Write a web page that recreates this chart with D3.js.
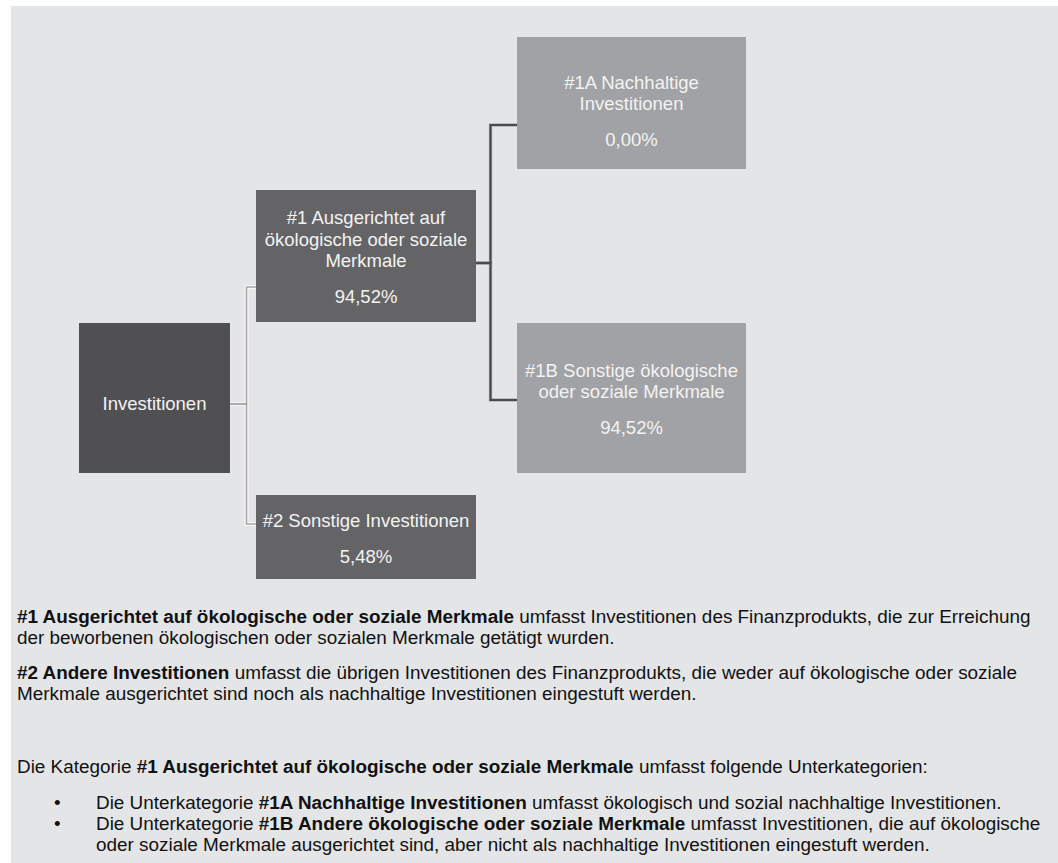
<!DOCTYPE html>
<html><head><meta charset="utf-8">
<script src="https://cdn.jsdelivr.net/npm/d3@7"></script>
<style>
html,body{margin:0;padding:0;background:#fff;}
svg{display:block;font-family:"Liberation Sans",Arial,sans-serif;}
</style></head>
<body>
<svg id="chart" width="1058" height="863"></svg>
<script>
// ---- data ----
const nodeIds = ["inv", "n1", "n2", "n1A", "n1B"];
const nodeLabels = [
  ["Investitionen"],
  ["#1 Ausgerichtet auf", "ökologische oder soziale", "Merkmale"],
  ["#2 Sonstige Investitionen"],
  ["#1A Nachhaltige", "Investitionen"],
  ["#1B Sonstige ökologische", "oder soziale Merkmale"]
];
const nodeValues = [null, "94,52%", "5,48%", "0,00%", "94,52%"];
const nodeLevels = [0, 1, 1, 2, 2];
const linkSources = ["inv", "inv", "n1", "n1"];
const linkTargets = ["n1", "n2", "n1A", "n1B"];

const notes = [
  [[{b:true,t:"#1 Ausgerichtet auf ökologische oder soziale Merkmale"},{t:" umfasst Investitionen des Finanzprodukts, die zur Erreichung"}],
   [{t:"der beworbenen ökologischen oder sozialen Merkmale getätigt wurden."}]],
  [[{b:true,t:"#2 Andere Investitionen"},{t:" umfasst die übrigen Investitionen des Finanzprodukts, die weder auf ökologische oder soziale"}],
   [{t:"Merkmale ausgerichtet sind noch als nachhaltige Investitionen eingestuft werden."}]],
  [[{t:"Die Kategorie "},{b:true,t:"#1 Ausgerichtet auf ökologische oder soziale Merkmale"},{t:" umfasst folgende Unterkategorien:"}]]
];
const bullets = [
  [[{t:"Die Unterkategorie "},{b:true,t:"#1A Nachhaltige Investitionen"},{t:" umfasst ökologisch und sozial nachhaltige Investitionen."}]],
  [[{t:"Die Unterkategorie "},{b:true,t:"#1B Andere ökologische oder soziale Merkmale"},{t:" umfasst Investitionen, die auf ökologische"}],
   [{t:"oder soziale Merkmale ausgerichtet sind, aber nicht als nachhaltige Investitionen eingestuft werden."}]]
];

// ---- layout (positions/styles kept separate from data) ----
const svg = d3.select("#chart");
const W = 1058, H = 863;
svg.append("rect").attr("x", 11).attr("y", 6).attr("width", W - 11).attr("height", H - 6).attr("fill", "#e4e5e7");

const colX = d3.scaleOrdinal().domain([0, 1, 2]).range([79, 256, 517]);
const colW = d3.scaleOrdinal().domain([0, 1, 2]).range([151, 220, 229]);
const boxY = {inv: [323, 473], n1: [190, 322], n2: [495, 579], n1A: [37, 169], n1B: [323, 473]};
const fillOf = {inv: "#505052", n1: "#646466", n2: "#646466", n1A: "#a1a2a5", n1B: "#a1a2a5"};
const lineBase = {inv: [410], n1: [224, 246, 267, 303], n2: [527, 563], n1A: [89, 110, 146], n1B: [377, 398, 434]};

const nodes = nodeIds.map((id, i) => ({
  id, label: nodeLabels[i], value: nodeValues[i], level: nodeLevels[i],
  x: colX(nodeLevels[i]), w: colW(nodeLevels[i]), y0: boxY[id][0], y1: boxY[id][1]
}));
const byId = Object.fromEntries(nodes.map(n => [n.id, n]));

// connectors
const linkY = {inv: 404, n1: 263};
const targetY = {n1: 287, n2: 524, n1A: 125, n1B: 400};
const busX = {inv: 246.5, n1: 490.5};
const linkStyle = {inv: {outer: "#f7f7f8", inner: "#a8a8aa", ow: 4, iw: 1.6}, n1: {outer: "#9a9a9c", inner: "#4a4a4c", ow: 3.2, iw: 2}};

const links = linkSources.map((s, i) => ({s: byId[s], t: byId[linkTargets[i]]}));
const g = svg.append("g");
const pathOf = l => {
  const sx = l.s.x + l.s.w, sy = linkY[l.s.id], bx = busX[l.s.id], ty = targetY[l.t.id], tx = l.t.x;
  return `M${sx},${sy}H${bx}V${ty}H${tx}`;
};
["outer", "inner"].forEach(k => {
  g.selectAll("path." + k).data(links).enter().append("path").attr("class", k)
    .attr("d", pathOf).attr("fill", "none")
    .attr("stroke", l => linkStyle[l.s.id][k])
    .attr("stroke-width", l => linkStyle[l.s.id][k === "outer" ? "ow" : "iw"]);
});

const ng = svg.selectAll("g.node").data(nodes).enter().append("g").attr("class", "node");
ng.append("rect").attr("x", d => d.x).attr("y", d => d.y0).attr("width", d => d.w).attr("height", d => d.y1 - d.y0)
  .attr("fill", d => fillOf[d.id]);
ng.each(function(d) {
  const lines = d.label.concat(d.value ? [d.value] : []);
  d3.select(this).selectAll("text").data(lines).enter().append("text")
    .attr("x", d.x + d.w / 2).attr("y", (t, i) => lineBase[d.id][i])
    .attr("text-anchor", "middle").attr("fill", "#f3f3f3").attr("font-size", 18.5).text(t => t);
});

// notes
const fs = 18.9;
function writeLine(x, y, segs) {
  const t = svg.append("text").attr("x", x).attr("y", y).attr("font-size", fs).attr("fill", "#111");
  segs.forEach(s => t.append("tspan").attr("font-weight", s.b ? "bold" : null).text(s.t));
  return t;
}
const noteBase = [[623, 644], [679, 700], [773]];
notes.forEach((p, i) => p.forEach((ln, j) => writeLine(17, noteBase[i][j], ln)));
const bulletBase = [[809], [830, 851]];
bullets.forEach((p, i) => {
  svg.append("text").attr("x", 54).attr("y", bulletBase[i][0]).attr("font-size", fs).attr("fill", "#111").text("•");
  p.forEach((ln, j) => writeLine(96, bulletBase[i][j], ln));
});
</script>
</body></html>
